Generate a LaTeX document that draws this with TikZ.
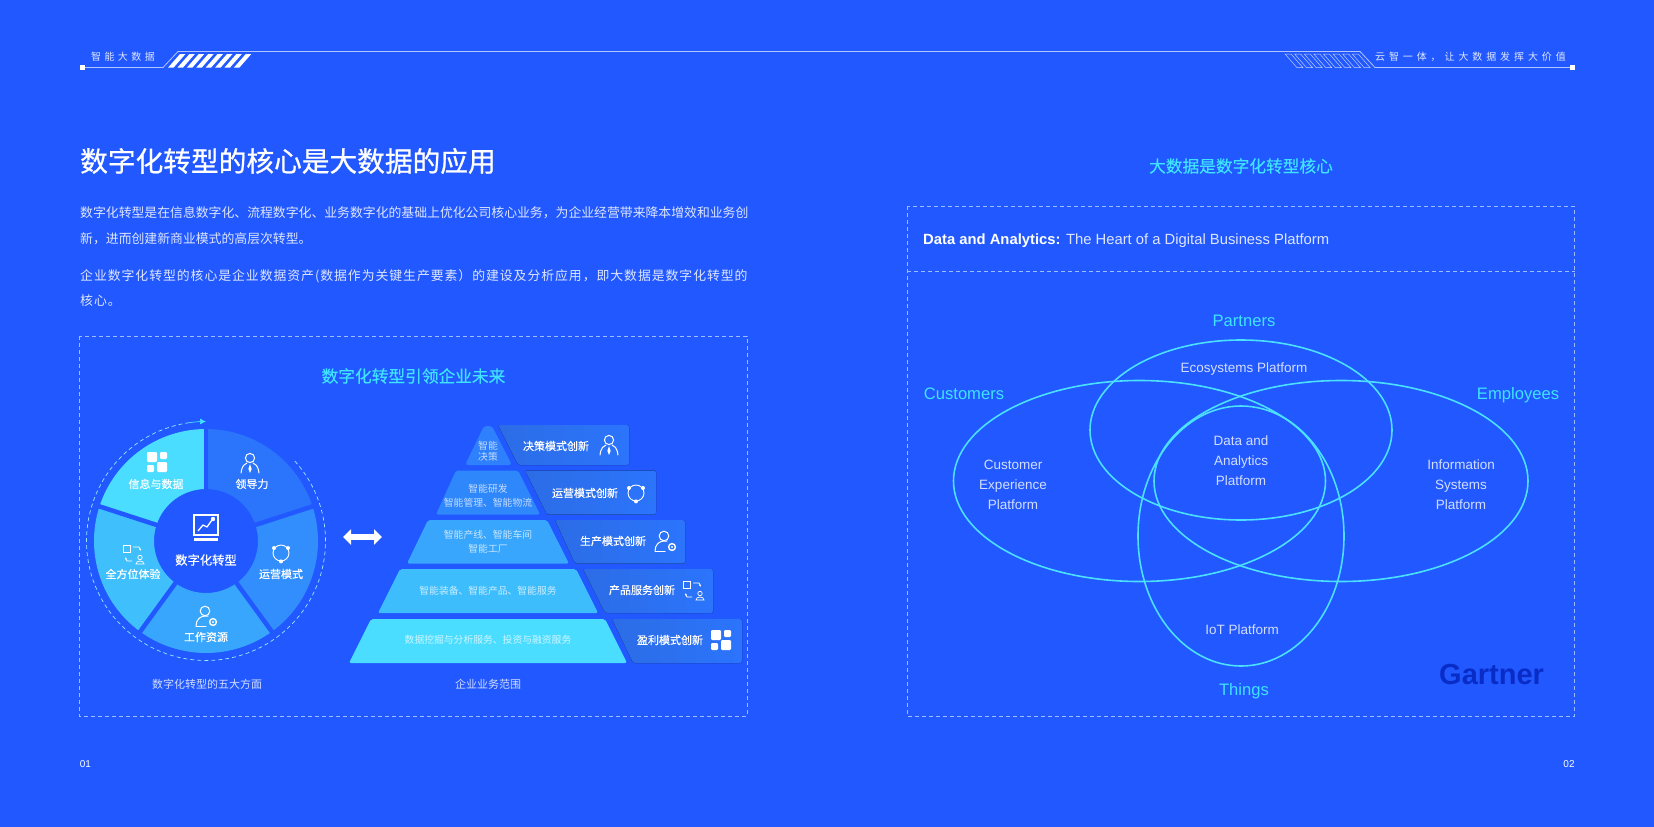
\documentclass[tikz,border=0pt]{standalone}
\usepackage{fontspec}
\setmainfont{Noto Sans CJK SC}
\newfontfamily\latinfont{Liberation Sans}
\newfontfamily\medfont[FakeBold=0.35]{Noto Sans CJK SC}
\newfontfamily\headfont[FakeBold=0.7]{Noto Sans CJK SC}
\usetikzlibrary{arrows.meta, positioning}

\definecolor{pagebg}{HTML}{2158FF}
\definecolor{cyantxt}{HTML}{3FE3FF}
\definecolor{ringline}{HTML}{4CE0FF}
\definecolor{dashline}{HTML}{9DBBFF}
\definecolor{secA}{HTML}{2B74FC}
\definecolor{secB}{HTML}{318EFC}
\definecolor{secC}{HTML}{38A6FC}
\definecolor{secD}{HTML}{3FC0FD}
\definecolor{secE}{HTML}{4BDDFF}
\definecolor{barleft}{HTML}{2C6DE6}
\definecolor{gartnerblue}{HTML}{0A2CC6}

% one slice of the wheel: start angle, end angle, colour
\newcommand{\wheelslice}[3]{\fill[#3] (#1:52) -- (#1:112) arc (#1:#2:112) -- (#2:52) arc (#2:#1:52) -- cycle;}
% text with gaps between characters
\newcommand{\spaced}[2]{{\addfontfeature{LetterSpace=#1}#2}}

\tikzset{
    % icons, all drawn around their own origin
    iconleader/.pic={
        \draw[white, line width=1pt] (0,-5) circle (4.6);
        \draw[white, line width=1pt, line cap=round] (-9,10) .. controls (-8,2) and (-5,1) .. (-3,0);
        \draw[white, line width=1pt, line cap=round] (9,10) .. controls (8,2) and (5,1) .. (3,0);
        \fill[white] (0,1) -- (1.6,6) -- (0,10) -- (-1.6,6) -- cycle;
    },
    iconring/.pic={
        \draw[white, line width=.9pt] (0,0) circle (8);
        \fill[white] (-7,-5) circle (2) (7,-5) circle (2) (0,8.4) circle (2);
    },
    iconwork/.pic={
        \draw[white, line width=1pt] (-2,-5) circle (4.8);
        \draw[white, line width=1pt, line cap=round] (-11,10) .. controls (-11,3) and (-6,0) .. (-2,0) -- (1,0);
        \draw[white, line width=1pt, line cap=round] (-11,10) -- (-1,10);
        \draw[white, line width=1.4pt] (6,6) circle (3.4);
        \fill[white] (6,6) circle (1.2);
    },
    iconswap/.pic={
        \draw[white, line width=.7pt] (-10,-9) rectangle (-3,-2);
        \draw[white, line width=.7pt, -{Latex[length=2.5pt]}] (0,-7) -- (6,-7) -- (8,-3);
        \draw[white, line width=.7pt, -{Latex[length=2.5pt]}] (-1,7) -- (-6,7) -- (-8,3);
        \draw[white, line width=.7pt] (7,3.5) circle (2.2);
        \draw[white, line width=.7pt] (3,10) .. controls (3,6) and (11,6) .. (11,10) -- cycle;
    },
    iconblocks/.pic={
        \fill[white, rounded corners=1.2pt] (-10,-10) rectangle (0,0);
        \fill[white, rounded corners=1.2pt] (3,-10) rectangle (10,-3);
        \fill[white, rounded corners=1.2pt] (-10,3) rectangle (-3,10);
        \fill[white, rounded corners=1.2pt] (0,0) rectangle (10,10);
    },
    iconchart/.pic={
        \draw[white, line width=1.5pt] (-12,-13) rectangle (12,7);
        \draw[white, line width=1.3pt, line join=round] (-8,3) -- (-3,-3) -- (1,-1) -- (6,-8);
        \fill[white] (7,-9) circle (2.2);
        \fill[white] (-12,10) rectangle (12,12.5);
    },
}

\begin{document}
\begin{tikzpicture}[
    x=1pt, y=-1pt,
    >=Latex,
    pagetxt/.style={white, opacity=.85, font=\fontsize{12.85}{13}\selectfont, anchor=west, inner sep=0pt}, % body text
    headtxt/.style={white, opacity=.85, font=\fontsize{10}{10}\selectfont, inner sep=0pt}, % page header
    cyanhead/.style={cyantxt, font=\medfont\fontsize{16.7}{17}\selectfont, inner sep=0pt}, % small headings
    panelframe/.style={dashline, dash pattern=on 4pt off 3pt, line width=.7pt}, % dashed panels
    slicetxt/.style={white, font=\medfont\fontsize{11}{11}\selectfont, inner sep=0pt},
    steptxt/.style={white, opacity=.72, font=\fontsize{9.8}{13.6}\selectfont, align=center, inner sep=0pt},
    bartxt/.style={white, font=\medfont\fontsize{11}{11}\selectfont, inner sep=0pt},
    captxt/.style={white, opacity=.8, font=\fontsize{11}{11}\selectfont, inner sep=0pt},
    ringstyle/.style={ringline, line width=1.6pt},
    venntxt/.style={white, opacity=.8, font=\latinfont\fontsize{13.5}{20}\selectfont, align=center, inner sep=0pt},
    vennhead/.style={cyantxt, font=\latinfont\fontsize{16.6}{17}\selectfont, inner sep=0pt},
    barfill/.style={left color=barleft, right color=#1, rounded corners=2pt},
]
    \fill[pagebg] (0,0) rectangle (1654,827);
    \useasboundingbox (0,0) rectangle (1654,827);

    % Page header
    \coordinate (HeadL) at (82,67.5);
    \coordinate (HeadR) at (1572,67.5);
    \draw[white, opacity=.65, line width=.8pt] (HeadL) -- (163,67.5) -- (178,51.5) -- (1360,51.5) -- (1375,67.5) -- (HeadR);
    \fill[white] (79.5,65) rectangle (84.5,70);
    \fill[white] (1569.5,65) rectangle (1574.5,70);
    \foreach \i in {0,...,7}{
        \fill[white] ({168+\i*9.4},67.7) -- ({180+\i*9.4},54) -- ({185.5+\i*9.4},54) -- ({173.5+\i*9.4},67.7) -- cycle;
        \draw[white, opacity=.7, line width=.5pt] ({1285+\i*9.6},54) -- ({1297+\i*9.6},67.7) -- ({1303+\i*9.6},67.7) -- ({1291+\i*9.6},54) -- cycle;
    }
    \node[headtxt, anchor=west] (headleft) at (91,57) {\spaced{34}{智能大数据}};
    \node[headtxt, anchor=east] (headright) at (1566,57) {\spaced{39}{云智一体，让大数据发挥大价值}};

    % Left column text
    \node[white, font=\headfont\fontsize{27.7}{28}\selectfont, anchor=west, inner sep=0pt] (title) at (80,161) {数字化转型的核心是大数据的应用};
    \node[pagetxt] (lineA) at (80,213) {数字化转型是在信息数字化、流程数字化、业务数字化的基础上优化公司核心业务，为企业经营带来降本增效和业务创};
    \node[pagetxt] (lineB) at (80,239) {新，进而创建新商业模式的高层次转型。};
    \node[pagetxt] (lineC) at (80,276) {\spaced{7.5}{企业数字化转型的核心是企业数据资产(数据作为关键生产要素）的建设及分析应用，即大数据是数字化转型的}};
    \node[pagetxt] (lineD) at (80,301) {\spaced{7.5}{核心。}};

    % Left panel
    \draw[panelframe] (79,336) rectangle (747,716);
    \node[cyanhead] (lefthead) at (413.5,376) {数字化转型引领企业未来};

    % Wheel
    \begin{scope}[shift={(206,541)}, y=1pt]
        \wheelslice{18}{90}{secA}
        \wheelslice{-54}{18}{secB}
        \wheelslice{-126}{-54}{secC}
        \wheelslice{-198}{-126}{secD}
        \wheelslice{-270}{-198}{secE}
        \foreach \a in {18,90,162,234,306}
            \draw[pagebg, line width=4.5pt] (\a:50) -- (\a:114);
        \draw[ringline!60!white, line width=.7pt, dash pattern=on 4pt off 3pt] (42:119.5) arc (42:-262:119.5);
        \draw[cyantxt, line width=.7pt, -{Latex[length=6pt,width=6pt]}] (98:119.5) arc (98:90:119.5);
    \end{scope}
    \node[slicetxt] (info) at (156,484) {信息与数据};
    \node[slicetxt] (lead) at (252,484) {领导力};
    \node[slicetxt] (oper) at (281,574) {运营模式};
    \node[slicetxt] (work) at (206,637) {工作资源};
    \node[slicetxt] (full) at (133,574) {全方位体验};
    \node[white, font=\medfont\fontsize{12.3}{12}\selectfont, inner sep=0pt] (hub) at (206,560) {数字化转型};
    \pic at (157,462) {iconblocks};
    \pic at (250,463) {iconleader};
    \pic at (281,553) {iconring};
    \pic at (207,616) {iconwork};
    \pic at (133,554) {iconswap};
    \pic at (206,528) {iconchart};
    \node[captxt] (wheelcap) at (207,684) {数字化转型的五大方面};

    % Arrow between wheel and pyramid
    \coordinate (ArrowL) at (343,537);
    \coordinate (ArrowR) at (382,537);
    \draw[white, line width=6pt, {Triangle[length=8pt,width=15pt]}-{Triangle[length=8pt,width=15pt]}] (ArrowL) -- (ArrowR);

    % Pyramid steps
    \fill[secA!55!secB, rounded corners=3pt] (484,426) -- (492,426) -- (512,465) -- (465,465) -- cycle;
    \fill[secA!25!secB, rounded corners=2pt] (456,470.5) -- (518,470.5) -- (540,514.5) -- (436,514.5) -- cycle;
    \fill[secC, rounded corners=2pt] (428,520) -- (547,520) -- (569,563.5) -- (407,563.5) -- cycle;
    \fill[secD!90!secC, rounded corners=2pt] (400,569) -- (576,569) -- (598,613) -- (378,613) -- cycle;
    \fill[secE, rounded corners=2pt] (371,619) -- (605,619) -- (627,663) -- (349,663) -- cycle;
    \node[steptxt, font=\fontsize{9.8}{11}\selectfont] (stepA) at (488,451.5) {智能\\决策};
    \node[steptxt] (stepB) at (488,496) {智能研发\\智能管理、智能物流};
    \node[steptxt] (stepC) at (488,542) {智能产线、智能车间\\智能工厂};
    \node[steptxt] (stepD) at (488,591) {智能装备、智能产品、智能服务};
    \node[steptxt] (stepE) at (488,640) {数据挖掘与分析服务、投资与融资服务};

    % Bars beside the steps
    \fill[barfill=secA] (498,425) -- (629,425) -- (629,465) -- (518,465) -- cycle;
    \fill[barfill=secA] (525,470.5) -- (656,470.5) -- (656,514.5) -- (547,514.5) -- cycle;
    \fill[barfill=secA] (555,520) -- (685,520) -- (685,563.5) -- (575,563.5) -- cycle;
    \fill[barfill=secA] (583,569) -- (713,569) -- (713,613) -- (605,613) -- cycle;
    \fill[barfill=secA] (612,619) -- (742,619) -- (742,663) -- (633,663) -- cycle;
    \node[bartxt] (barA) at (556,446) {决策模式创新};
    \node[bartxt] (barB) at (585,493) {运营模式创新};
    \node[bartxt] (barC) at (613,541) {生产模式创新};
    \node[bartxt] (barD) at (642,590) {产品服务创新};
    \node[bartxt] (barE) at (670,640) {盈利模式创新};
    \pic at (609,445) {iconleader};
    \pic at (636,493) {iconring};
    \pic at (666,541) {iconwork};
    \pic at (693,590) {iconswap};
    \pic at (721,640) {iconblocks};
    \node[captxt] (pyrcap) at (488,684) {企业业务范围};

    % Right panel
    \node[cyanhead] (righthead) at (1241,166) {大数据是数字化转型核心};
    \draw[panelframe] (907,206) rectangle (1574.5,716);
    \draw[panelframe] (907,271.5) -- (1574.5,271.5);
    \node[white, font=\latinfont\fontsize{14.8}{15}\selectfont, anchor=west, inner sep=0pt] (dataline) at (923,241) {\textbf{Data and Analytics:} {\color{white!85!pagebg}The Heart of a Digital Business Platform}};

    % Venn rings
    \draw[ringstyle] (1139.5,481) ellipse (186 and 100.5);
    \draw[ringstyle] (1341,481) ellipse (187 and 100.5);
    \draw[ringstyle] (1241,430) ellipse (151 and 90);
    \draw[ringstyle] (1241,536) ellipse (103 and 130);

    \node[vennhead] (partners) at (1244,321) {Partners};
    \node[vennhead] (customers) at (964,393.5) {Customers};
    \node[vennhead] (employees) at (1518,395.5) {Employees};
    \node[vennhead] (things) at (1244,691) {Things};
    \node[venntxt] (eco) at (1244,369) {Ecosystems Platform};
    \node[venntxt] (core) at (1241,461) {Data and\\Analytics\\Platform};
    \node[venntxt] (cep) at (1013,485) {Customer\\Experience\\Platform};
    \node[venntxt] (isp) at (1461,485) {Information\\Systems\\Platform};
    \node[venntxt] (iot) at (1242,630) {IoT Platform};
    \node[font=\latinfont\bfseries\fontsize{29}{29}\selectfont, text=gartnerblue, inner sep=0pt] (gartner) at (1491.6,675) {Gartner};

    % Page numbers
    \node[white, font=\latinfont\fontsize{10}{10}\selectfont, inner sep=0pt] (pageA) at (85.5,764) {01};
    \node[white, font=\latinfont\fontsize{10}{10}\selectfont, inner sep=0pt] (pageB) at (1569,764) {02};
\end{tikzpicture}
\end{document}
